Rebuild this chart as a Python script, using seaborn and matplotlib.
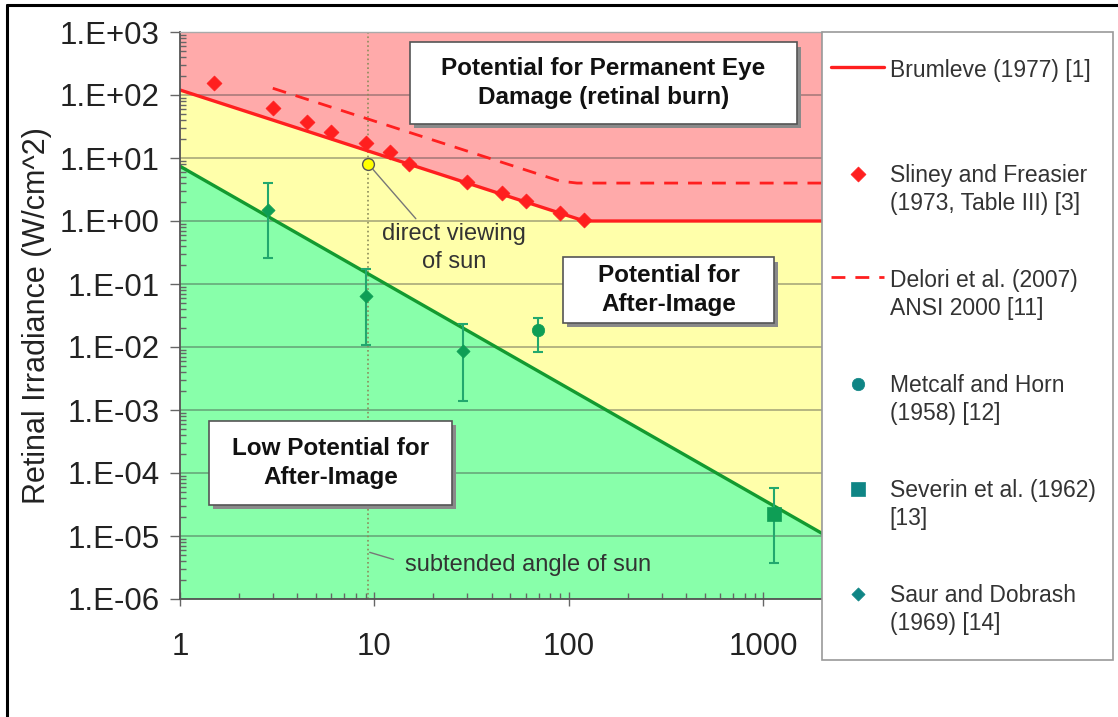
import matplotlib
matplotlib.use("Agg")
import matplotlib.pyplot as plt
import matplotlib.ticker as mticker
from matplotlib.patches import Rectangle
from matplotlib.lines import Line2D
import seaborn as sns

# Values (x = angle in mrad, y = retinal irradiance W/cm^2)
brumleve_x = [1, 120, 2000]
brumleve_y = [120, 1.0, 1.0]

delori_x = [3, 90, 110, 2000]
delori_y = [128, 4.3, 4.0, 4.0]

lowpot_x = [1, 2000]
lowpot_y = [7.4, 1.1e-5]

sliney_x = [1.5, 3, 4.5, 6, 9, 12, 15, 30, 45, 60, 90, 120]
sliney_y = [155, 62, 37, 26, 17, 12.4, 8.0, 4.2, 2.8, 2.1, 1.35, 1.04]

saur_x = [2.85, 9.0, 28.5]
saur_y = [1.5, 0.065, 0.0087]
saur_lo = [0.26, 0.0108, 0.0014]
saur_hi = [4.0, 0.173, 0.0232]

metcalf_x = [69]
metcalf_y = [0.0186]
metcalf_lo = [0.0083]
metcalf_hi = [0.029]

severin_x = [1130]
severin_y = [2.2e-5]
severin_lo = [3.7e-6]
severin_hi = [5.8e-5]

sun_angle = 9.3
sun_irr = 8.0

xtick_vals = [1, 10, 100, 1000]
xtick_labels = ["1", "10", "100", "1000"]
ytick_vals = [1e-6, 1e-5, 1e-4, 1e-3, 1e-2, 1e-1, 1e0, 1e1, 1e2, 1e3]
ytick_labels = ["1.E-06", "1.E-05", "1.E-04", "1.E-03", "1.E-02",
                "1.E-01", "1.E+00", "1.E+01", "1.E+02", "1.E+03"]

legend_order = ["Brumleve (1977) [1]\n",
                "Sliney and Freasier\n(1973, Table III) [3]",
                "Delori et al. (2007)\nANSI 2000 [11]",
                "Metcalf and Horn\n(1958) [12]",
                "Severin et al. (1962)\n[13]",
                "Saur and Dobrash\n(1969) [14]"]

red = "#FF1F1F"
pt_green = "#0E9E55"
bar_green = "#22A86E"
teal = "#0F8585"
green_line = "#139A30"
red_fill = "#FFAAAA"
yellow_fill = "#FFFFAA"
green_fill = "#88FFAA"

sns.set_theme(style="ticks")
plt.rcParams['font.family'] = ['Liberation Sans', 'DejaVu Sans']

fig = plt.figure(figsize=(11.18, 7.17), dpi=100)
ax = fig.add_axes([180 / 1118, 1 - 599 / 717, 642 / 1118, 567 / 717])

ax.set_xscale("log")
ax.set_yscale("log")
ax.set_xlim(1, 2000)
ax.set_ylim(1e-6, 1e3)

# zones
ax.set_facecolor(red_fill)
ax.fill_between(brumleve_x, 1e-6, brumleve_y, color=yellow_fill, lw=0, zorder=0.2)
ax.fill_between(lowpot_x, 1e-6, lowpot_y, color=green_fill, lw=0, zorder=0.3)

ax.set_axisbelow("line")
ax.grid(True, axis="y", which="major", color="#404040", alpha=0.45, lw=1.2)
ax.grid(False, axis="x")

ax.axvline(sun_angle, color="#8C8C5A", ls=":", lw=1.2, zorder=1.6)

# lines
sns.lineplot(x=lowpot_x, y=lowpot_y, ax=ax, color=green_line, lw=2.4,
             sort=False, estimator=None, zorder=2)
sns.lineplot(x=brumleve_x, y=brumleve_y, ax=ax, color=red, lw=2.4,
             sort=False, estimator=None, label=legend_order[0], zorder=2.2)
sns.lineplot(x=delori_x, y=delori_y, ax=ax, color=red, lw=2,
             sort=False, estimator=None, label=legend_order[2],
             dashes=False, linestyle=(0, (5, 3.6)), zorder=2.2)

# error bars
for xs, ys, lo, hi in [(saur_x, saur_y, saur_lo, saur_hi),
                       (metcalf_x, metcalf_y, metcalf_lo, metcalf_hi),
                       (severin_x, severin_y, severin_lo, severin_hi)]:
    yerr = [[y - l for y, l in zip(ys, lo)], [h - y for y, h in zip(ys, hi)]]
    ax.errorbar(xs, ys, yerr=yerr, fmt="none", ecolor=bar_green,
                elinewidth=1.5, capsize=3.8, capthick=1.5, zorder=3)

# markers
sns.scatterplot(x=sliney_x, y=sliney_y, ax=ax, marker="D", s=58, color=red,
                edgecolor=red, linewidth=0.5, label=legend_order[1], zorder=4)
sns.scatterplot(x=metcalf_x, y=metcalf_y, ax=ax, marker="o", s=80, color=pt_green,
                edgecolor=pt_green, linewidth=0.5, label=legend_order[3], zorder=4)
sns.scatterplot(x=severin_x, y=severin_y, ax=ax, marker="s", s=95, color=pt_green,
                edgecolor=pt_green, linewidth=0.5, label=legend_order[4], zorder=4)
sns.scatterplot(x=saur_x, y=saur_y, ax=ax, marker="D", s=45, color=pt_green,
                edgecolor=pt_green, linewidth=0.5, label=legend_order[5], zorder=4)
sns.scatterplot(x=[sun_angle], y=[sun_irr], ax=ax, marker="o", s=72,
                color="#FFFF00", edgecolor="#555555", linewidth=1, zorder=5)

if ax.get_legend() is not None:
    ax.get_legend().remove()

# axes, ticks
ax.set_xticks(xtick_vals, labels=xtick_labels)
ax.set_yticks(ytick_vals, labels=ytick_labels)
ax.xaxis.set_minor_locator(mticker.LogLocator(base=10, subs=range(2, 10), numticks=20))
ax.yaxis.set_minor_locator(mticker.LogLocator(base=10, subs=range(2, 10), numticks=20))
ax.xaxis.set_minor_formatter(mticker.NullFormatter())
ax.yaxis.set_minor_formatter(mticker.NullFormatter())

ax.tick_params(axis="x", which="major", direction="inout", length=10, width=1,
               color="#666666", pad=19, labelsize=22.5, labelcolor="#222222")
ax.tick_params(axis="x", which="minor", direction="in", length=4.5, width=1, color="#666666")
ax.tick_params(axis="y", which="major", direction="out", length=7.5, width=1,
               color="#666666", pad=7, labelsize=22.5, labelcolor="#222222")
ax.tick_params(axis="y", which="minor", direction="in", length=4, width=1, color="#666666")

ax.set_xlabel("")
ax.set_ylabel("Retinal Irradiance (W/cm^2)", fontsize=22, color="#222222")
ax.yaxis.set_label_coords(-0.20, 0.5)

for side in ["left", "bottom"]:
    ax.spines[side].set_color("#555555")
    ax.spines[side].set_linewidth(1.3)
for side in ["top", "right"]:
    ax.spines[side].set_color("#AAAAAA")
    ax.spines[side].set_linewidth(1.0)

# zone label boxes (axes fraction)
boxes = [((0.358, 0.838, 0.961, 0.982), "Potential for Permanent Eye\nDamage (retinal burn)"),
         ((0.597, 0.487, 0.925, 0.603), "Potential for\nAfter-Image"),
         ((0.045, 0.166, 0.424, 0.314), "Low Potential for\nAfter-Image")]
for (x0, y0, x1, y1), txt in boxes:
    ax.add_patch(Rectangle((x0 + 0.006, y0 - 0.008), x1 - x0, y1 - y0,
                           transform=ax.transAxes, fc="#8A8A8A", ec="none", zorder=6))
    ax.add_patch(Rectangle((x0, y0), x1 - x0, y1 - y0, transform=ax.transAxes,
                           fc="white", ec="#555555", lw=1.2, zorder=7))
    ax.text((x0 + x1) / 2, (y0 + y1) / 2, txt, transform=ax.transAxes,
            ha="center", va="center", fontsize=17.5, fontweight="bold",
            color="#111111", linespacing=1.32, zorder=8)

# annotations
ax.annotate("direct viewing\nof sun", xy=(sun_angle, sun_irr),
            xytext=(0.427, 0.619), textcoords="axes fraction",
            ha="center", va="center", fontsize=17, color="#333333",
            linespacing=1.35, zorder=8,
            arrowprops=dict(arrowstyle="-", color="#777777", lw=1,
                            relpos=(0.26, 1.0), shrinkA=1, shrinkB=5))
ax.annotate("subtended angle of sun", xy=(sun_angle, 0.083),
            xycoords=("data", "axes fraction"),
            xytext=(0.35, 0.06), textcoords="axes fraction",
            ha="left", va="center", fontsize=17, color="#333333", zorder=8,
            arrowprops=dict(arrowstyle="-", color="#777777", lw=1,
                            relpos=(0, 0.6), shrinkA=6, shrinkB=1))

# legend frame spanning below the plot, legend entries inside
fig.add_artist(Rectangle((822 / 1118, 1 - 660 / 717), 291 / 1118, 628 / 717,
                         transform=fig.transFigure, fc="white", ec="#999999",
                         lw=1.2, zorder=4))
handles, labels = ax.get_legend_handles_labels()
lookup = dict(zip(labels, handles))
hs = [lookup[l] for l in legend_order]
leg = fig.legend(hs, legend_order, loc="upper left",
                 bbox_to_anchor=(822 / 1118, 1 - 50 / 717),
                 bbox_transform=fig.transFigure, borderaxespad=0,
                 frameon=False, fontsize=16.5, labelspacing=2.35,
                 handlelength=2.3, handletextpad=0.25, borderpad=0.4,
                 labelcolor="#333333")
leg.set_zorder(5)
for t in leg.get_texts():
    t.set_linespacing(1.28)
# legend swatches of the measurement series are teal
for h in leg.legend_handles[3:]:
    h.set_facecolor(teal)
    h.set_edgecolor(teal)
try:
    for col in leg._legend_handle_box.get_children():
        for item in col.get_children():
            item.align = "top"
except Exception:
    pass

# outer frame (left and top edges)
fig.add_artist(Line2D([7 / 1118, 7 / 1118], [0, 1 - 5 / 717], color="black", lw=2.2,
                      transform=fig.transFigure))
fig.add_artist(Line2D([7 / 1118, 1], [1 - 5 / 717, 1 - 5 / 717], color="black", lw=2.2,
                      transform=fig.transFigure))

fig.savefig("out.png", dpi=100)
